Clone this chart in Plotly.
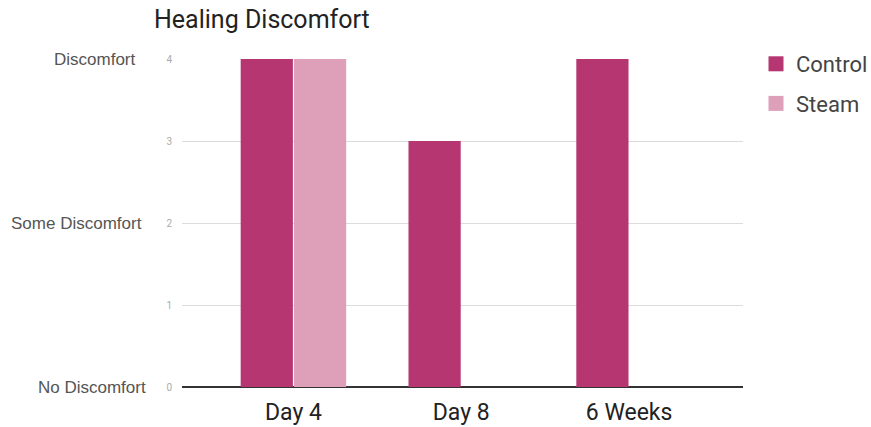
import plotly.graph_objects as go

# Healing discomfort scores by time point
categories = ["Day 4", "Day 8", "6 Weeks"]
control = [4, 3, 4]
steam = [4, 0, 0]
score_ticks = [0, 1, 2, 3, 4]
score_labels = {4: "Discomfort", 2: "Some Discomfort", 0: "No Discomfort"}

CONTROL_COLOR = "#B53670"
STEAM_COLOR = "#DDA0B8"
FONT = "Roboto, Arial, sans-serif"
LABEL_FONT = "Liberation Sans, Arial, sans-serif"

fig = go.Figure()
fig.add_trace(go.Bar(name="Control", x=categories, y=control, showlegend=False,
                     legendgroup="control",
                     marker=dict(color=CONTROL_COLOR, line=dict(width=0))))
fig.add_trace(go.Bar(name="Steam", x=categories, y=steam, showlegend=False,
                     legendgroup="steam",
                     marker=dict(color=STEAM_COLOR, line=dict(width=0))))

# Legend entries with larger square swatches
for name, color, group in [("Control", CONTROL_COLOR, "control"),
                           ("Steam", STEAM_COLOR, "steam")]:
    fig.add_trace(go.Scatter(name=name, x=[None], y=[None], mode="markers",
                             legendgroup=group, hoverinfo="skip",
                             marker=dict(symbol="square", size=15, color=color,
                                         line=dict(width=0))))

# Descriptive labels drawn to the left of the numeric score ticks
label_right_px = {4: 138, 2: 144, 0: 148}
plot_left, plot_width = 182, 561
for val, text in score_labels.items():
    fig.add_annotation(
        text=text, xref="paper", yref="y",
        x=(label_right_px[val] - plot_left) / plot_width, y=val,
        xanchor="right", yanchor="middle", showarrow=False,
        font=dict(family=LABEL_FONT, size=17, color="#555555"),
    )

fig.update_layout(
    width=871, height=427,
    margin=dict(l=182, r=128, t=59, b=40, autoexpand=False),
    paper_bgcolor="white", plot_bgcolor="white",
    barmode="group", bargap=0.365, bargroupgap=0.02,
    title=dict(text="Healing Discomfort", x=154 / 871, xanchor="left",
               xref="container", y=1 - 19 / 427, yanchor="middle",
               font=dict(family=FONT, size=25, color="#222222")),
    font=dict(family=FONT),
    legend=dict(x=(756 - 182) / 561, y=(387 - 43) / 328,
                xanchor="left", yanchor="top",
                font=dict(family=FONT, size=22, color="#444444"),
                tracegroupgap=8, itemwidth=30, itemsizing="trace"),
    xaxis=dict(type="category", range=[-0.664, 2.679],
               tickfont=dict(family=FONT, size=23, color="#222222"),
               showgrid=False, showline=False, ticks="", zeroline=False,
               ticklabelstandoff=9),
    yaxis=dict(range=[0, 4], tickvals=score_ticks,
               tickfont=dict(family=FONT, size=10, color="#aaaaaa"),
               showgrid=True, gridcolor="#dcdcdc", gridwidth=1,
               zeroline=True, zerolinecolor="#333333", zerolinewidth=1.5,
               ticks="", ticklabelstandoff=9),
)

fig.write_html("out.html")
